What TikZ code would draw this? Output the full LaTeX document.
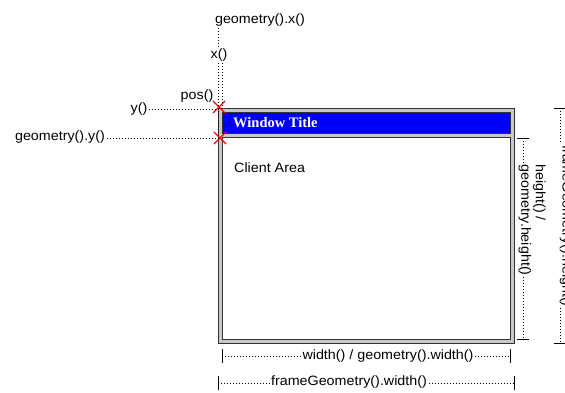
\documentclass[tikz,border=0pt]{standalone}
\usepackage{fontspec}
\setmainfont{Liberation Sans}
\newfontfamily\titlefont{Liberation Serif}
\usetikzlibrary{shapes.misc}
\newcommand{\wtxt}[1]{\scalebox{1.06}[1]{#1}}
\begin{document}
\begin{tikzpicture}[x=1pt,y=-1pt,
  lbl/.style={font=\fontsize{13.5}{14.5}\selectfont, inner sep=1.5pt},
  dimline/.style={dash pattern=on 1pt off 2pt, line width=0.8pt},
  tickline/.style={line width=0.8pt},
  crossmark/.style={cross out, draw=red, line width=1.1pt, minimum size=11pt, inner sep=0pt},
  box/.style={draw=black!80, line width=1pt, inner sep=0pt, anchor=north west}]
\useasboundingbox (0,0) rectangle (565,392);
\clip (0,0) rectangle (565,392);

% window frame
\node[box, fill=black!22, minimum width=296pt, minimum height=235pt] (frame) at (218,108) {};
\node[box, fill=blue, minimum width=288pt, minimum height=21pt] (titlebar) at (222,112) {};
\node[box, fill=white, minimum width=288pt, minimum height=202pt] (client) at (222,137) {};
\node[anchor=west, text=white, font=\titlefont\bfseries\fontsize{14.5}{15}\selectfont, inner sep=0pt] (title) at (233,123) {Window Title};
\node[anchor=west, font=\fontsize{13.5}{14}\selectfont, inner sep=0pt] (clienttext) at (234,168) {\wtxt{Client Area}};

% reference points
\coordinate (fpos) at (219,107);
\coordinate (gpos) at (220,138);

% top / left labels
\node[lbl] (gx) at (260,20) {\wtxt{geometry().x()}};
\node[lbl] (xx) at (219,55) {\wtxt{x()}};
\node[lbl] (pos) at (197,96) {\wtxt{pos()}};
\node[lbl] (yy) at (139,109) {\wtxt{y()}};
\node[lbl] (gy) at (60,137) {\wtxt{geometry().y()}};

\coordinate (ax) at (218.5,0);
\coordinate (bx) at (222,0);
\draw[dimline] (gx.south -| ax) -- (xx.north -| ax);
\draw[dimline] (xx.south -| ax) -- (gpos -| ax);
\draw[dimline] (xx.south -| bx) -- (fpos -| bx);
\draw[dimline] (yy.east) -- (yy.east -| fpos);
\draw[dimline] (gy.east |- gpos) -- (gpos);

\node[crossmark] (c1) at (fpos) {};
\node[crossmark] (c2) at (gpos) {};

% bottom dimensions
\coordinate (w1a) at (222,356);
\coordinate (w1b) at (510,356);
\coordinate (w2a) at (218,383);
\coordinate (w2b) at (514,383);
\node[lbl] (wd) at (388,356) {\wtxt{width() / geometry().width()}};
\node[lbl] (fw) at (349,382) {\wtxt{frameGeometry().width()}};
\draw[dimline] (w1a) -- (wd.west |- w1a);
\draw[dimline] (wd.east |- w1b) -- (w1b);
\draw[dimline] (w2a) -- (fw.west |- w2a);
\draw[dimline] (fw.east |- w2b) -- (w2b);
\draw[tickline] ([yshift=-7pt]w1a) -- ([yshift=7pt]w1a);
\draw[tickline] ([yshift=-7pt]w1b) -- ([yshift=7pt]w1b);
\draw[tickline] ([yshift=-7pt]w2a) -- ([yshift=7pt]w2a);
\draw[tickline] ([yshift=-7pt]w2b) -- ([yshift=7pt]w2b);

% right dimensions
\coordinate (h1a) at (523,138);
\coordinate (h1b) at (523,339);
\coordinate (h2a) at (560,108);
\coordinate (h2b) at (560,343);
\node[lbl, rotate=-90, align=left] (hg) at (532,220) {\wtxt{height() /}\\\wtxt{geometry.height()}};
\node[lbl, rotate=-90] (fh) at (566,226) {\wtxt{frameGeometry().height()}};
\draw[dimline] (h1a) -- (hg.west -| h1a);
\draw[dimline] (hg.east -| h1b) -- (h1b);
\draw[dimline] (h2a) -- (fh.west -| h2a);
\draw[dimline] (fh.east -| h2b) -- (h2b);
\draw[tickline] ([xshift=-6pt]h1a) -- ([xshift=6pt]h1a);
\draw[tickline] ([xshift=-6pt]h1b) -- ([xshift=6pt]h1b);
\draw[tickline] ([xshift=-6pt]h2a) -- ([xshift=6pt]h2a);
\draw[tickline] ([xshift=-6pt]h2b) -- ([xshift=6pt]h2b);
\end{tikzpicture}
\end{document}
